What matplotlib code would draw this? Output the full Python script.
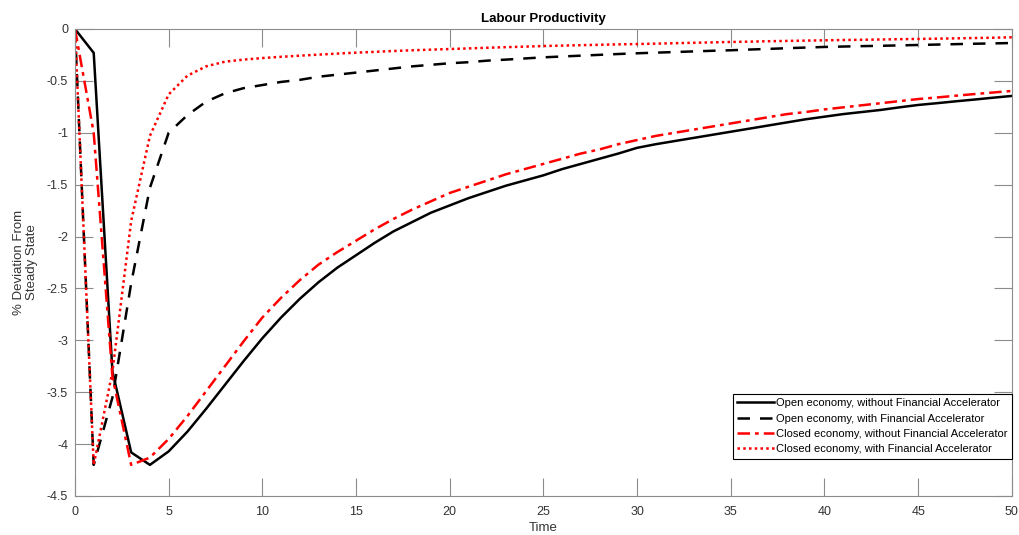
import matplotlib
matplotlib.use("Agg")
import matplotlib.pyplot as plt
import numpy as np

plt.rcParams['font.family'] = ['Liberation Sans', 'DejaVu Sans']
plt.rcParams['axes.unicode_minus'] = False

# periods after the shock
time = list(range(0, 51))

# Open economy, without Financial Accelerator
open_no_fa = [0, -0.23, -3.30, -4.08, -4.20, -4.07, -3.88, -3.66, -3.43, -3.20,
              -2.98, -2.78, -2.60, -2.44, -2.30, -2.18, -2.06, -1.95, -1.86, -1.77,
              -1.70, -1.63, -1.57, -1.51, -1.46, -1.41, -1.35, -1.30, -1.25, -1.20,
              -1.145, -1.11, -1.08, -1.05, -1.02, -0.99, -0.96, -0.93, -0.90, -0.87,
              -0.845, -0.82, -0.80, -0.78, -0.755, -0.732, -0.715, -0.697, -0.68, -0.662,
              -0.645]

# Open economy, with Financial Accelerator
open_fa = [0, -4.20, -3.55, -2.45, -1.53, -1.00, -0.83, -0.70, -0.62, -0.57,
           -0.54, -0.51, -0.49, -0.46, -0.44, -0.42, -0.40, -0.38, -0.36, -0.345,
           -0.33, -0.32, -0.305, -0.295, -0.284, -0.273, -0.265, -0.257, -0.249, -0.241,
           -0.234, -0.228, -0.222, -0.216, -0.21, -0.205, -0.198, -0.192, -0.185, -0.179,
           -0.173, -0.169, -0.165, -0.162, -0.158, -0.154, -0.150, -0.146, -0.142, -0.139,
           -0.135]

# Closed economy, without Financial Accelerator
closed_no_fa = [0, -1.00, -3.35, -4.20, -4.13, -3.95, -3.73, -3.49, -3.25, -3.01,
                -2.78, -2.59, -2.42, -2.27, -2.15, -2.04, -1.93, -1.83, -1.74, -1.66,
                -1.58, -1.52, -1.46, -1.40, -1.35, -1.30, -1.25, -1.20, -1.16, -1.11,
                -1.07, -1.03, -1.00, -0.97, -0.94, -0.91, -0.88, -0.85, -0.82, -0.80,
                -0.775, -0.755, -0.735, -0.715, -0.695, -0.675, -0.66, -0.643, -0.627, -0.612,
                -0.597]

# Closed economy, with Financial Accelerator
closed_fa = [0, -4.20, -3.30, -1.85, -1.03, -0.63, -0.45, -0.36, -0.315, -0.295,
             -0.28, -0.268, -0.257, -0.247, -0.237, -0.228, -0.22, -0.212, -0.205, -0.199,
             -0.193, -0.187, -0.181, -0.175, -0.170, -0.164, -0.160, -0.156, -0.152, -0.148,
             -0.145, -0.141, -0.137, -0.133, -0.129, -0.125, -0.122, -0.118, -0.115, -0.112,
             -0.109, -0.106, -0.104, -0.101, -0.098, -0.096, -0.093, -0.090, -0.087, -0.084,
             -0.080]

labels = ["Open economy, without Financial Accelerator",
          "Open economy, with Financial Accelerator",
          "Closed economy, without Financial Accelerator",
          "Closed economy, with Financial Accelerator"]

fig = plt.figure(figsize=(10.2, 5.35), dpi=100)
ax = fig.add_axes([0.0735, 0.0729, 0.9185, 0.8729])

ax.plot(time, open_no_fa, color="black", linewidth=1.8, label=labels[0])
ax.plot(time, open_fa, color="black", linewidth=1.8, dashes=(5, 4), label=labels[1])
ax.plot(time, closed_no_fa, color="red", linewidth=1.8, dashes=(5, 2, 1.5, 2), label=labels[2])
ax.plot(time, closed_fa, color="red", linewidth=1.8, dashes=(1, 1.3), label=labels[3])

ax.set_xlim(0, 50)
ax.set_ylim(-4.5, 0)
ax.set_xticks(np.arange(0, 51, 5))
ax.set_yticks(np.arange(-4.5, 0.01, 0.5))
ax.set_yticklabels(["-4.5", "-4", "-3.5", "-3", "-2.5", "-2", "-1.5", "-1", "-0.5", "0"])

for s in ax.spines.values():
    s.set_color("#8c8c8c")
    s.set_linewidth(0.8)
ax.tick_params(direction="in", length=13, width=0.8, color="#8c8c8c",
               top=True, right=True, labelsize=9, labelcolor="#333333")
ax.tick_params(axis="x", pad=7)
ax.tick_params(axis="y", pad=5)

ax.set_title("Labour Productivity", fontsize=9.5, fontweight="bold", pad=5)
ax.set_xlabel("Time", fontsize=9.5, color="#333333", labelpad=3)
ax.set_ylabel("% Deviation From\nSteady State", fontsize=9.5, color="#333333", labelpad=6)

leg = ax.legend(loc="lower right", bbox_to_anchor=(1.0, 0.08), fontsize=8,
                handlelength=3.3, handletextpad=0.2, borderaxespad=0,
                labelspacing=0.48, fancybox=False, framealpha=1, borderpad=0.4)
leg.get_frame().set_edgecolor("black")
leg.get_frame().set_linewidth(0.8)

fig.savefig("out.png", dpi=100)
